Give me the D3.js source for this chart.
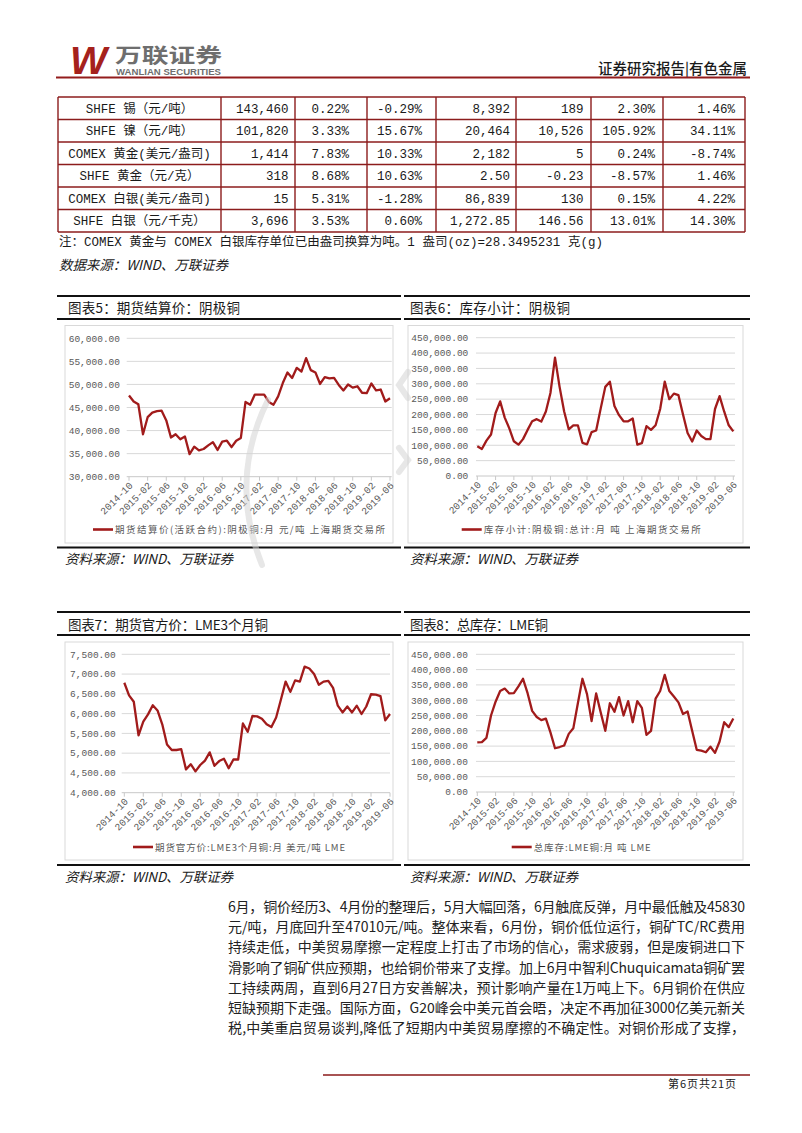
<!DOCTYPE html>
<html><head><meta charset="utf-8">
<script src="https://cdn.jsdelivr.net/npm/d3@7"></script>
<style>body{margin:0;background:#fff}svg{display:block}</style>
</head><body><svg id="page" width="802" height="1133"></svg>
<script>
// ---------------- DATA ----------------
const months = ["2014-10","2014-11","2014-12",
"2015-01","2015-02","2015-03","2015-04","2015-05","2015-06","2015-07","2015-08","2015-09","2015-10","2015-11","2015-12",
"2016-01","2016-02","2016-03","2016-04","2016-05","2016-06","2016-07","2016-08","2016-09","2016-10","2016-11","2016-12",
"2017-01","2017-02","2017-03","2017-04","2017-05","2017-06","2017-07","2017-08","2017-09","2017-10","2017-11","2017-12",
"2018-01","2018-02","2018-03","2018-04","2018-05","2018-06","2018-07","2018-08","2018-09","2018-10","2018-11","2018-12",
"2019-01","2019-02","2019-03","2019-04","2019-05","2019-06"];
const tickLabels = ["2014-10","2015-02","2015-06","2015-10","2016-02","2016-06","2016-10","2017-02","2017-06","2017-10","2018-02","2018-06","2018-10","2019-02","2019-06"];

const shfePrice = [47600,46300,45700,39200,42900,43900,44200,44300,42200,38500,39200,38100,38700,34900,36500,35700,36000,36800,37500,35800,37600,37800,36400,37800,38400,46200,45600,47800,47800,47800,46200,45600,47400,50300,52600,51400,53600,52800,55700,53100,52600,50100,51600,51300,51400,49900,48700,50000,49300,49600,48200,48100,50200,48700,48900,46300,47000];
const shfeStock = [97000,88000,115000,135000,205000,243000,190000,155000,113000,102000,120000,150000,178000,185000,177000,210000,270000,385000,290000,210000,152000,165000,165000,108000,103000,143000,148000,220000,290000,307000,228000,198000,178000,178000,187000,102000,107000,162000,150000,165000,218000,307000,250000,268000,263000,200000,140000,112000,148000,130000,120000,120000,218000,260000,210000,165000,145000];
const lmePrice = [6780,6460,6300,5450,5800,5980,6210,6080,5730,5220,5080,5080,5100,4590,4720,4540,4700,4810,5020,4680,4800,4860,4620,4840,4840,5750,5540,5940,5930,5870,5730,5660,5900,6350,6810,6550,6840,6810,7190,7140,7000,6730,6810,6830,6650,6200,6030,6180,6030,6200,5990,6180,6490,6480,6440,5830,5990];
const lmeStock = [162000,163000,177000,250000,295000,330000,338000,322000,323000,345000,370000,323000,265000,245000,235000,240000,195000,143000,147000,152000,190000,208000,290000,370000,320000,232000,322000,260000,200000,290000,262000,310000,250000,297000,228000,297000,275000,187000,200000,305000,330000,383000,330000,312000,293000,255000,263000,200000,138000,135000,130000,148000,128000,165000,228000,212000,240000];

const priceTicks5 = [30000,35000,40000,45000,50000,55000,60000];
const stockTicks = [0,50000,100000,150000,200000,250000,300000,350000,400000,450000];
const priceTicks7 = [4000,4500,5000,5500,6000,6500,7000,7500];

const commodities = ["SHFE 锡（元/吨）","SHFE 镍（元/吨）","COMEX 黄金(美元/盎司)","SHFE 黄金（元/克）","COMEX 白银(美元/盎司)","SHFE 白银（元/千克）"];
const closePrice  = ["143,460","101,820","1,414","318","15","3,696"];
const monthChg    = ["0.22%","3.33%","7.83%","8.68%","5.31%","3.53%"];
const yearChg     = ["-0.29%","15.67%","10.33%","10.63%","-1.28%","0.60%"];
const inventory   = ["8,392","20,464","2,182","2.50","86,839","1,272.85"];
const invChange   = ["189","10,526","5","-0.23","130","146.56"];
const invMonthChg = ["2.30%","105.92%","0.24%","-8.57%","0.15%","13.01%"];
const invYearChg  = ["1.46%","34.11%","-8.74%","1.46%","4.22%","14.30%"];

const paragraph = [
"6月，铜价经历3、4月份的整理后，5月大幅回落，6月触底反弹，月中最低触及45830",
"元/吨，月底回升至47010元/吨。整体来看，6月份，铜价低位运行，铜矿TC/RC费用",
"持续走低，中美贸易摩擦一定程度上打击了市场的信心，需求疲弱，但是废铜进口下",
"滑影响了铜矿供应预期，也给铜价带来了支撑。加上6月中智利Chuquicamata铜矿罢",
"工持续两周，直到6月27日方安善解决，预计影响产量在1万吨上下。6月铜价在供应",
"短缺预期下走强。国际方面，G20峰会中美元首会晤，决定不再加征3000亿美元新关",
"税,中美重启贸易谈判,降低了短期内中美贸易摩擦的不确定性。对铜价形成了支撑，"
];

// ---------------- DRAW ----------------
const RED = "#a11b1b", DARK = "#1a1a1a", GRAY = "#595959";
const CJK = "'Noto Sans CJK SC', sans-serif";
const MONO = "'Liberation Mono', 'DejaVu Sans Mono', " + CJK;
const svg = d3.select("#page");
svg.append("rect").attr("width",802).attr("height",1133).attr("fill","#fff");

// header
svg.append("text").attr("x",70).attr("y",74).text("W")
  .attr("font-family","'Liberation Sans', sans-serif").attr("font-weight",700).attr("font-style","italic")
  .attr("font-size",38).attr("fill","#a5211c").attr("textLength",37).attr("lengthAdjust","spacingAndGlyphs");
svg.append("text").attr("x",115).attr("y",62.5).text("万联证券")
  .attr("font-family",CJK).attr("font-weight",700).attr("font-size",20).attr("fill","#6e6e6e")
  .attr("textLength",107).attr("lengthAdjust","spacingAndGlyphs");
svg.append("text").attr("x",116).attr("y",75).text("WANLIAN SECURITIES")
  .attr("font-family","'Liberation Sans', sans-serif").attr("font-weight",700).attr("font-size",9).attr("fill","#6e6e6e")
  .attr("textLength",105).attr("lengthAdjust","spacingAndGlyphs");
svg.append("text").attr("x",598).attr("y",74).text("证券研究报告|有色金属")
  .attr("font-family",CJK).attr("font-weight",500).attr("font-size",14.5).attr("fill",DARK)
  .attr("textLength",149).attr("lengthAdjust","spacingAndGlyphs");
svg.append("line").attr("x1",56).attr("x2",750).attr("y1",77.5).attr("y2",77.5).attr("stroke","#931c1c").attr("stroke-width",2);

// table
const colB = [58,221,295,367,436,516,591,663,745];
const textR = [null,288.5,349,422,510,583.5,655,735];
const rowTop = 97, rowH = 22.5;
const tableCols = [commodities, closePrice, monthChg, yearChg, inventory, invChange, invMonthChg, invYearChg];
const tg = svg.append("g");
const nRows = commodities.length;
tableCols.forEach((col, ci) => {
  col.forEach((v, ri) => {
    const cy = rowTop + rowH*ri + rowH/2 + 4.5;
    const t = tg.append("text").attr("y",cy).text(v).attr("font-family",MONO).attr("font-size",12.5).attr("fill",DARK);
    if (ci === 0) t.attr("x",(colB[0]+colB[1])/2).attr("text-anchor","middle");
    else t.attr("x",textR[ci]).attr("text-anchor","end");
  });
});
const BC = "#8c1c1c";
for (let r = 0; r <= nRows; r++) tg.append("line").attr("x1",colB[0]).attr("x2",colB[8]).attr("y1",rowTop+r*rowH).attr("y2",rowTop+r*rowH).attr("stroke",BC).attr("stroke-width",1.4);
colB.forEach(x => tg.append("line").attr("x1",x).attr("x2",x).attr("y1",rowTop).attr("y2",rowTop+nRows*rowH).attr("stroke",BC).attr("stroke-width",1.4));

svg.append("text").attr("x",59).attr("y",246).text("注：COMEX 黄金与 COMEX 白银库存单位已由盎司换算为吨。1 盎司(oz)=28.3495231 克(g)")
  .attr("font-family",MONO).attr("font-size",12.5).attr("fill",DARK).attr("textLength",544);
svg.append("text").attr("x",59).attr("y",270).text("数据来源：WIND、万联证券")
  .attr("font-family",CJK).attr("font-style","italic").attr("font-size",13.5).attr("fill",DARK).attr("textLength",169);

// charts
function drawChart(o) {
  const g = svg.append("g");
  [o.topLine, o.underLine, o.bottomLine].forEach(y =>
    g.append("line").attr("x1",o.x0).attr("x2",o.x1).attr("y1",y).attr("y2",y).attr("stroke","#111").attr("stroke-width",2));
  g.append("text").attr("x",o.titleX).attr("y",o.titleY).text(o.title)
    .attr("font-family",CJK).attr("font-size",13.5).attr("fill",DARK).attr("textLength",o.titleLen);
  g.append("rect").attr("x",o.boxL).attr("y",o.boxT).attr("width",o.boxR-o.boxL).attr("height",o.boxB-o.boxT)
    .attr("fill","#fff").attr("stroke","#d9d9d9").attr("stroke-width",1);
  const x = d3.scalePoint().domain(months).range([o.dataL, o.dataR]);
  const y = d3.scaleLinear().domain([o.ticks[0], o.ticks[o.ticks.length-1]]).range([o.plotB, o.plotT]);
  const fmt = d3.format(",.2f");
  o.ticks.forEach((t, i) => {
    g.append("line").attr("x1",o.gridL).attr("x2",o.gridR).attr("y1",y(t)).attr("y2",y(t))
      .attr("stroke", i === 0 ? "#c8c8c8" : "#d9d9d9").attr("stroke-width",1);
    g.append("text").attr("x",o.labelR).attr("y",y(t)).attr("dy","0.35em").attr("text-anchor","end")
      .text(fmt(t)).attr("font-family",MONO).attr("font-size",9.5).attr("fill",GRAY);
  });
  tickLabels.forEach(m => {
    const xm = x(m);
    g.append("line").attr("x1",xm).attr("x2",xm).attr("y1",o.plotB).attr("y2",o.plotB+4).attr("stroke","#c8c8c8");
    g.append("text").attr("transform",`translate(${xm+2},${o.plotB+7}) rotate(-45)`).attr("dy","0.35em")
      .attr("text-anchor","end").text(m).attr("font-family",MONO).attr("font-size",9.8).attr("fill",GRAY);
  });
  const line = d3.line().x((d,i) => x(months[i])).y(d => y(d));
  g.append("path").attr("d",line(o.values)).attr("fill","none").attr("stroke",RED).attr("stroke-width",2.3).attr("stroke-linejoin","round");
  g.append("line").attr("x1",o.legX).attr("x2",o.legX+20).attr("y1",o.legY).attr("y2",o.legY).attr("stroke",RED).attr("stroke-width",2.6);
  g.append("text").attr("x",o.legX+22).attr("y",o.legY+3.5).text(o.legend)
    .attr("font-family",CJK).attr("font-size",9.5).attr("fill",GRAY).attr("textLength",o.legLen);
  g.append("text").attr("x",o.srcX).attr("y",o.srcY).text("资料来源：WIND、万联证券")
    .attr("font-family",CJK).attr("font-style","italic").attr("font-size",13.5).attr("fill",DARK).attr("textLength",168);
}

const topRow = {topLine:296, titleY:313, underLine:319, boxT:325.5, boxB:543, bottomLine:547.5, srcY:564};
const botRow = {topLine:612, titleY:630, underLine:635, boxT:642, boxB:860, bottomLine:865, srcY:882};
const leftCol = {x0:57, x1:401, titleX:68, boxL:65, boxR:393, srcX:65};
const rightCol = {x0:404, x1:750, titleX:410, boxL:408, boxR:743, srcX:410};

drawChart(Object.assign({}, topRow, leftCol, {
  title:"图表5：期货结算价：阴极铜", titleLen:172, values:shfePrice, ticks:priceTicks5,
  plotT:338.3, plotB:476.7, gridL:126.7, gridR:391.7, dataL:129, dataR:390, labelR:120,
  legX:93, legY:529.5, legend:"期货结算价(活跃合约):阴极铜:月  元/吨 上海期货交易所", legLen:270}));
drawChart(Object.assign({}, topRow, rightCol, {
  title:"图表6：库存小计：阴极铜", titleLen:160, values:shfeStock, ticks:stockTicks,
  plotT:337.7, plotB:476, gridL:476, gridR:735, dataL:477.3, dataR:733.3, labelR:468.3,
  legX:461.7, legY:529.5, legend:"库存小计:阴极铜:总计:月  吨 上海期货交易所", legLen:217}));
drawChart(Object.assign({}, botRow, leftCol, {
  title:"图表7：期货官方价：LME3个月铜", titleLen:200, values:lmePrice, ticks:priceTicks7,
  plotT:654.3, plotB:792.7, gridL:121.7, gridR:390, dataL:124.3, dataR:390, labelR:115.7,
  legX:133, legY:847, legend:"期货官方价:LME3个月铜:月  美元/吨 LME", legLen:190}));
drawChart(Object.assign({}, botRow, rightCol, {
  title:"图表8：总库存：LME铜", titleLen:138, values:lmeStock, ticks:stockTicks,
  plotT:654.3, plotB:792, gridL:476, gridR:735, dataL:477.3, dataR:733.3, labelR:468,
  legX:511.7, legY:847, legend:"总库存:LME铜:月  吨 LME", legLen:117}));

// faint watermark strokes
const wm = svg.append("g").attr("fill","none").attr("stroke","#d4d4d4").attr("stroke-width",6).attr("opacity",0.55).attr("stroke-linecap","round");
wm.append("path").attr("d","M 268 400 Q 228 480 262 565");
wm.append("path").attr("d","M 408 372 L 399 385 L 408 398");
wm.append("path").attr("d","M 399 448 L 408 460 L 399 472");

// paragraph
paragraph.forEach((s, i) => {
  svg.append("text").attr("x",228).attr("y",912 + i*20.2).text(s)
    .attr("font-family",CJK).attr("font-size",14).attr("fill","#222").attr("textLength",517);
});

// footer
svg.append("line").attr("x1",323).attr("x2",750).attr("y1",1075).attr("y2",1075).attr("stroke","#8b1a1a").attr("stroke-width",1.5);
svg.append("text").attr("x",668).attr("y",1087.5).text("第6页共21页")
  .attr("font-family",CJK).attr("font-size",11).attr("fill","#222").attr("textLength",68);
</script></body></html>
